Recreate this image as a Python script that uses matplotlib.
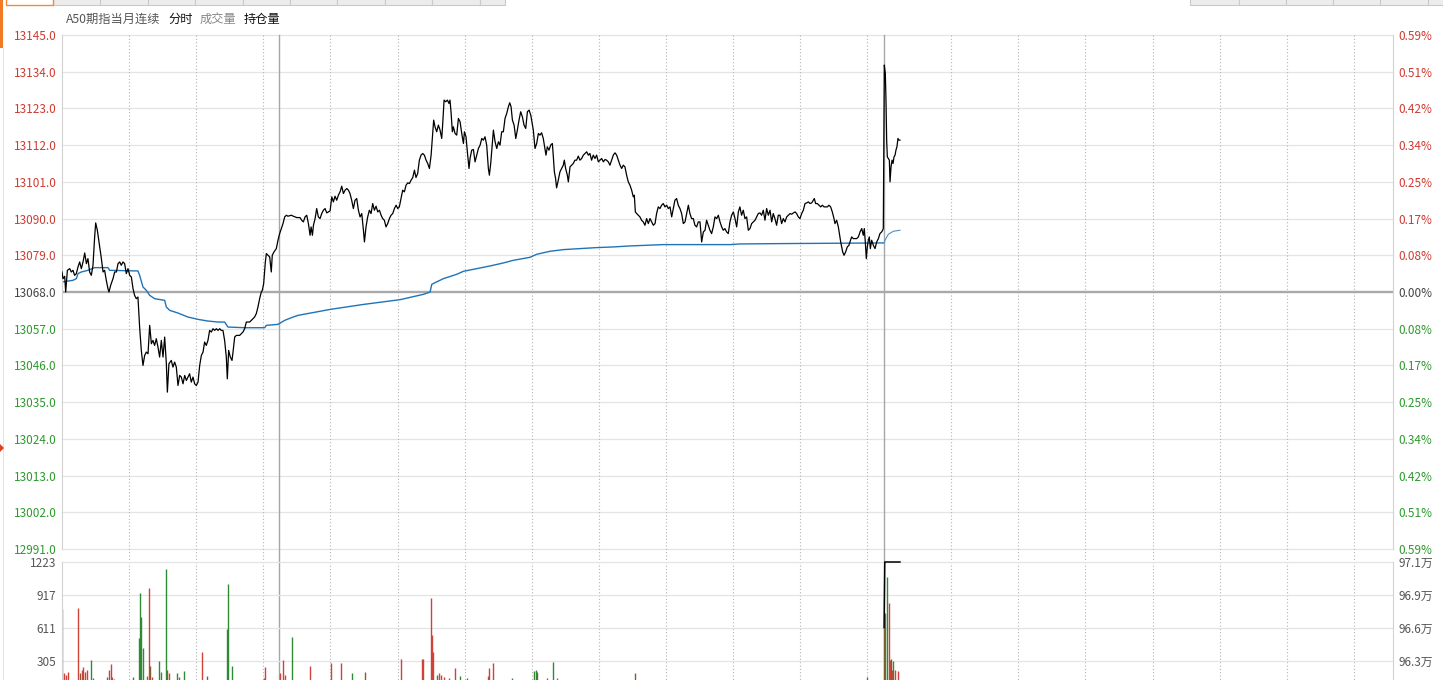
import matplotlib
matplotlib.use("Agg")
import matplotlib.pyplot as plt
from matplotlib.transforms import blended_transform_factory
from matplotlib.patches import Rectangle, Polygon

plt.rcParams['font.family'] = ['Noto Sans CJK SC', 'DejaVu Sans']

# ---------------- data ----------------
title = "A50期指当月连续"
tab_labels = ["分时", "成交量", "持仓量"]
base_price = 13068.0
price_ticks = [13145.0, 13134.0, 13123.0, 13112.0, 13101.0, 13090.0, 13079.0,
               13068.0, 13057.0, 13046.0, 13035.0, 13024.0, 13013.0, 13002.0, 12991.0]
vol_ticks = [1223, 917, 611, 305]
oi_tick_labels = ["97.1万", "96.9万", "96.6万", "96.3万"]
oi_tick_values = [97.13, 96.863, 96.597, 96.33]
session_total = 1190          # minutes shown (night 735 + day 455)
day_open = 735                # minute at which day session begins
marker_minute = 194           # solid separator in night session
hour_lines = [60, 120, 180, 240, 300, 360, 420, 480, 540, 600, 660, 720,
              795, 855, 915, 975, 1035, 1095, 1155]

price_min = [
    0, 0.9, 2.4, 3.3, 4.8, 6.9, 8.3, 9.8, 11.3, 12.8, 14.3, 15.8, 17.3, 18.8, 20.3, 21.8,
    23.2, 24.7, 26.2, 27.7, 29.2, 30.1, 31.6, 33.7, 35.2, 36.7, 38.1, 39.6, 41.1, 42.0,
    43.5, 45.6, 47.1, 48.6, 50.1, 51.6, 53.0, 54.5, 56.0, 57.5, 59.0, 60.5, 62.0, 63.5,
    64.9, 66.4, 67.9, 69.4, 70.9, 72.4, 73.9, 75.4, 76.9, 78.4, 79.9, 81.3, 82.8, 84.3,
    85.8, 87.3, 88.8, 90.3, 91.8, 93.3, 94.2, 95.6, 97.7, 99.2, 100.7, 102.2, 103.7,
    105.2, 106.7, 108.2, 109.7, 111.2, 112.6, 114.1, 115.6, 117.1, 118.6, 120.1, 121.6,
    123.1, 124.6, 126.1, 127.5, 129.0, 130.5, 132.0, 133.5, 135.0, 136.5, 138.0, 139.5,
    141.0, 142.4, 143.9, 145.4, 146.9, 147.8, 149.0, 150.5, 152.0, 152.9, 154.4, 155.9,
    157.3, 158.8, 160.3, 161.8, 163.3, 164.8, 166.3, 167.8, 169.3, 170.8, 172.2, 173.7,
    175.2, 176.7, 178.2, 179.1, 180.3, 181.8, 182.7, 184.2, 185.7, 187.1, 188.0, 189.5,
    191.6, 193.1, 194.6, 196.1, 197.6, 199.1, 200.6, 202.0, 205.0,
    206.9, 209.9, 212.8, 214.3, 215.8, 217.3, 218.8, 220.3, 221.8, 222.7, 223.9, 224.8,
    226.3, 227.7, 229.2, 230.7, 232.2, 233.7, 235.2, 236.7, 238.2, 239.7, 241.2, 242.6,
    244.1, 245.6, 247.1, 248.6, 250.1, 251.6, 253.1, 254.6, 256.1, 257.5, 259.0, 260.5,
    262.0, 263.5, 265.0, 266.5, 268.0, 269.5, 270.4, 271.8, 273.3, 274.8, 276.3, 277.8,
    279.3, 280.8, 282.3, 283.8, 285.3, 286.7, 288.2, 289.7, 291.2, 292.7, 294.2, 295.7,
    297.2, 298.7, 300.2, 301.6, 303.1, 304.6, 306.1, 307.6, 309.1, 310.6, 312.1, 313.6,
    315.1, 316.5, 318.0, 319.5, 321.0, 322.5, 324.0, 325.5, 327.0, 328.5, 330.0, 331.4,
    332.3, 333.5, 335.0, 336.5, 338.0, 339.5, 340.4, 341.6, 343.1, 344.6, 346.0, 346.9,
    347.8, 349.0, 349.9, 351.4, 352.9, 354.4, 355.9, 357.4, 358.9, 359.8, 361.2, 362.7,
    363.9, 364.8, 366.3, 367.8, 369.3, 370.8, 372.3, 373.8, 375.3, 376.7, 378.2, 379.7,
    381.2, 382.1, 383.3, 384.5, 385.7, 387.2, 388.7, 390.2, 391.6, 393.1, 394.6, 396.1,
    397.6, 399.1, 400.3, 401.5, 402.7, 404.2, 405.7, 407.1, 408.6, 410.1, 411.6, 413.1,
    414.6, 416.1, 417.6, 419.1,
    421.4, 422.9, 424.4, 425.9, 427.3, 428.8, 430.3, 431.8, 432.7, 433.9, 435.4, 436.9,
    438.4, 439.3, 440.2, 441.3, 442.2, 443.7, 445.2, 446.7, 448.2, 449.1, 450.3, 451.8,
    452.7, 454.2, 455.7, 457.1, 458.6, 460.1, 461.6, 463.1, 464.6, 466.1, 467.6, 469.1,
    470.6, 472.0, 473.5, 475.0, 476.5, 478.0, 479.5, 481.0, 482.5, 484.0, 485.5, 486.9,
    488.4, 489.9, 491.4, 492.9, 494.4, 495.9, 497.4, 498.9, 500.4, 501.8, 503.3, 504.8,
    506.3, 507.8, 509.3, 510.8, 511.7, 512.6, 513.8, 515.3, 516.7, 518.2, 519.7, 521.2,
    522.7, 524.2, 525.7, 527.2, 528.7, 530.2, 531.6, 533.1, 534.6, 536.1, 537.6, 539.1,
    540.6, 542.1, 543.6, 545.1, 546.5, 548.0, 549.5, 551.0, 552.5, 554.0, 555.5, 557.0,
    558.5, 560.0, 561.4, 562.9, 564.4, 565.9, 567.4, 568.9, 570.4, 571.9, 573.4, 574.9,
    576.3, 577.8, 579.3, 580.8, 582.3, 583.8, 585.3, 586.8, 588.3, 589.8, 591.2, 592.7,
    594.2, 595.7, 597.2, 598.7, 600.2, 601.7, 603.2, 604.7, 606.1, 607.6, 609.1, 610.6,
    612.1, 613.6, 615.1, 616.6, 618.1, 619.6, 621.0, 622.5, 624.0, 625.5, 627.0, 628.5,
    630.0, 631.5, 633.0, 634.5, 635.9, 637.4, 638.9, 640.4,
    641.9, 643.4, 644.9, 646.4, 647.9, 649.4, 650.9, 652.4, 653.9, 655.4, 656.8, 658.3,
    659.8, 661.3, 662.8, 664.3, 665.8, 667.3, 668.8, 670.3, 671.7, 672.6, 673.8, 675.3,
    676.8, 678.3, 679.8, 681.3, 682.8, 684.3, 685.7, 687.2, 688.7, 690.2, 691.1, 692.6,
    694.1, 695.0, 696.2, 697.1, 698.0, 699.2, 700.6, 702.1, 703.6, 704.5, 706.0, 707.5,
    709.0, 710.5, 712.0, 713.5, 715.0, 716.4, 717.3, 718.2, 719.1, 720.0, 720.9, 721.8,
    722.7, 723.9, 725.4, 726.9, 728.4, 729.9, 731.3, 732.8, 733.7, 734.3,
    735.2, 736.1, 736.7, 737.3, 737.9, 738.8, 739.7, 740.3, 741.2, 742.1, 743.0, 743.9,
    744.8, 745.6, 746.5, 747.4, 748.3, 749.2]

price_val = [
    13074.0, 13072.0, 13072.7, 13068.0, 13074.5, 13075.0, 13074.0, 13074.5, 13073.0, 13073.5,
    13075.5, 13077.0, 13075.0, 13077.0, 13079.7, 13076.5, 13078.0, 13074.0, 13073.0, 13076.0,
    13084.5, 13088.7, 13086.5, 13081.5, 13078.0, 13074.0, 13074.5, 13071.5, 13069.0, 13068.0,
    13070.0, 13072.0, 13074.0, 13074.0, 13076.5, 13077.0, 13076.0, 13077.0, 13076.5, 13073.5,
    13075.0, 13073.0, 13072.5, 13069.0, 13067.0, 13066.0, 13066.5, 13057.5, 13050.5, 13046.0,
    13049.0, 13050.0, 13049.5, 13058.0, 13052.5, 13053.5, 13052.0, 13054.0, 13051.5, 13048.5,
    13053.5, 13048.5, 13054.5, 13046.5, 13038.0, 13046.5, 13047.5, 13045.5, 13047.0, 13045.5,
    13040.0, 13043.0, 13042.5, 13040.5, 13043.0, 13041.5, 13042.5, 13043.5, 13041.0, 13042.5,
    13040.5, 13040.0, 13041.0, 13046.0, 13049.0, 13050.0, 13053.0, 13052.0, 13053.5, 13056.5,
    13056.0, 13057.0, 13056.5, 13057.0, 13056.5, 13057.0, 13056.5, 13056.5, 13053.5, 13048.5,
    13042.0, 13050.5, 13048.5, 13047.5, 13050.0, 13054.5, 13055.0, 13055.0, 13055.0, 13055.5,
    13056.0, 13057.0, 13059.0, 13059.0, 13059.0, 13059.5, 13060.0, 13060.5, 13061.5, 13063.5,
    13066.0, 13068.0, 13068.5, 13070.5, 13077.0, 13079.5, 13079.0, 13078.5, 13074.0, 13079.0,
    13080.0, 13081.0, 13083.5, 13085.5, 13087.0, 13088.5, 13090.5, 13091.0, 13090.7, 13091.0,
    13090.7, 13090.3, 13090.3, 13089.5, 13089.0, 13090.5, 13091.0, 13088.5, 13085.0, 13087.5,
    13085.0, 13088.0, 13090.0, 13093.0, 13090.5, 13090.0, 13091.5, 13092.5, 13093.0, 13091.7,
    13092.0, 13092.3, 13096.5, 13095.0, 13096.7, 13095.5, 13097.0, 13098.0, 13099.7, 13097.5,
    13098.5, 13099.0, 13098.5, 13097.5, 13095.5, 13093.0, 13095.5, 13096.0, 13092.5, 13090.5,
    13091.5, 13086.5, 13083.0, 13087.5, 13090.5, 13092.5, 13091.5, 13094.5, 13092.5, 13093.7,
    13092.0, 13092.5, 13091.0, 13090.0, 13089.5, 13087.5, 13088.5, 13090.0, 13091.0, 13091.5,
    13093.0, 13094.0, 13093.0, 13093.5, 13096.0, 13098.5, 13098.0, 13100.0, 13100.7, 13100.5,
    13101.5, 13102.3, 13104.5, 13102.3, 13103.5, 13107.5, 13109.0, 13109.5, 13109.0, 13107.5,
    13106.5, 13105.0, 13109.0, 13115.5, 13119.5, 13117.5, 13116.0, 13118.0, 13116.5, 13114.0,
    13118.5, 13125.5, 13125.0, 13125.5, 13124.5, 13125.5, 13122.0, 13116.0, 13117.5, 13115.5,
    13115.0, 13120.0, 13119.0, 13115.5, 13112.5, 13116.0, 13114.5, 13109.0, 13105.0, 13108.0,
    13110.5, 13110.7, 13107.0, 13109.0, 13111.0, 13112.0, 13114.0, 13113.5, 13114.5, 13112.0,
    13105.0, 13103.0, 13106.5, 13111.5, 13116.5, 13113.0, 13111.0, 13113.0, 13112.0, 13116.0,
    13116.0, 13120.0, 13121.5, 13123.5, 13124.7, 13123.5, 13119.5, 13118.0, 13114.0, 13116.5,
    13119.5, 13122.0, 13120.5, 13118.0, 13117.0, 13122.0, 13122.5, 13121.0,
    13116.5, 13111.0, 13112.5, 13115.5, 13115.0, 13115.7, 13114.0, 13111.0, 13109.0, 13111.5,
    13110.5, 13112.0, 13112.5, 13108.5, 13104.0, 13102.0, 13099.2, 13101.5, 13104.0, 13105.0,
    13106.0, 13107.5, 13105.0, 13103.0, 13101.0, 13105.5, 13106.0, 13106.5, 13107.5, 13107.5,
    13108.7, 13107.5, 13108.0, 13109.0, 13109.5, 13110.0, 13109.0, 13109.5, 13107.5, 13109.0,
    13108.0, 13109.0, 13107.0, 13107.5, 13108.0, 13107.0, 13107.7, 13107.5, 13107.0, 13106.0,
    13107.5, 13109.0, 13109.7, 13109.0, 13107.5, 13106.0, 13105.0, 13106.0, 13105.5, 13103.0,
    13101.0, 13100.0, 13098.5, 13096.5, 13097.0, 13092.0, 13091.5, 13091.0, 13090.5, 13089.5,
    13089.0, 13088.0, 13090.0, 13088.5, 13090.0, 13089.0, 13088.0, 13088.5, 13091.5, 13093.5,
    13093.0, 13094.0, 13094.5, 13093.5, 13094.0, 13093.0, 13093.5, 13090.5, 13093.0, 13095.5,
    13096.0, 13094.0, 13093.0, 13091.5, 13088.5, 13089.0, 13091.5, 13094.0, 13091.5, 13090.0,
    13090.0, 13088.0, 13087.5, 13089.0, 13089.0, 13083.0, 13086.0, 13086.5, 13089.5, 13088.0,
    13086.5, 13085.5, 13087.5, 13090.5, 13090.0, 13091.0, 13089.0, 13087.5, 13086.5, 13087.0,
    13086.0, 13085.5, 13089.0, 13091.0, 13092.0, 13090.0, 13087.5, 13092.0, 13093.5, 13091.0,
    13092.5, 13090.0, 13090.5, 13086.5, 13087.0, 13088.5, 13089.0, 13089.5, 13090.5, 13091.5,
    13091.7, 13091.0, 13092.5, 13089.5, 13093.0, 13091.0, 13092.5, 13089.0, 13091.5, 13090.0,
    13088.0, 13091.0,
    13091.0, 13088.5, 13090.0, 13089.0, 13090.5, 13091.0, 13091.5, 13091.3, 13091.7, 13092.0,
    13091.5, 13090.5, 13090.0, 13091.5, 13092.5, 13094.5, 13094.7, 13095.0, 13094.5, 13094.7,
    13095.5, 13096.0, 13094.5, 13094.5, 13094.0, 13093.5, 13094.0, 13093.5, 13093.5, 13093.5,
    13094.0, 13093.5, 13092.0, 13090.0, 13088.5, 13089.5, 13087.5, 13085.5, 13083.0, 13081.5,
    13080.0, 13079.0, 13080.0, 13081.5, 13082.0, 13083.0, 13084.5, 13084.0, 13084.0, 13084.0,
    13084.5, 13086.0, 13087.0, 13085.0, 13087.0, 13083.0, 13078.0, 13081.5, 13083.5, 13084.5,
    13081.0, 13083.5, 13082.0, 13081.0, 13083.0, 13084.0, 13085.5, 13086.0, 13086.5, 13087.0,
    13136.0, 13133.5, 13125.5, 13113.5, 13108.5, 13108.0, 13107.5, 13101.0, 13105.5, 13107.5,
    13106.5, 13108.5, 13109.0, 13110.5, 13111.5, 13114.0, 13113.5, 13113.5]

avg_min = [0, 9.8, 12.8, 14.3, 17.3, 23.2, 29.2, 41.1, 42.6, 67.9, 69.4, 72.4, 75.4, 78.4,
           82.8, 91.8, 93.3, 96.3, 103.7, 112.6, 121.6, 130.5, 139.5, 145.4, 148.4, 163.3,
           181.2, 182.7, 193.1, 199.1, 205.0, 211.0, 240.0, 270.0, 302.2, 323.1, 329.1,
           330.6, 333.5, 341.0, 352.9, 358.9, 370.8, 382.7, 394.6, 403.6, 418.5, 424.4,
           436.3, 448.2, 463.1, 478.0, 492.9, 507.8, 522.7, 537.6, 597.2, 606.1, 641.9, 734.3]
avg_val = [13071.0, 13071.5, 13072.0, 13073.5, 13074.0, 13074.5, 13075.3, 13075.3, 13074.5,
           13074.3, 13073.0, 13069.5, 13068.5, 13067.0, 13066.0, 13065.5, 13063.5, 13062.5,
           13061.7, 13060.5, 13059.8, 13059.3, 13059.0, 13059.0, 13057.5, 13057.3, 13057.3,
           13058.0, 13058.3, 13059.5, 13060.3, 13061.0, 13062.8, 13064.3, 13065.7, 13067.3,
           13068.0, 13070.3, 13070.8, 13072.0, 13073.3, 13074.2, 13075.0, 13075.8, 13076.7,
           13077.5, 13078.4, 13079.3, 13080.2, 13080.7, 13081.0, 13081.3, 13081.5, 13081.8,
           13082.0, 13082.2, 13082.2, 13082.4, 13082.5, 13082.7]
day_avg_min = [735.2, 735.8, 738.8, 743.3, 749.2]
day_avg_val = [13082.7, 13083.5, 13085.3, 13086.2, 13086.5]

vol_min = [0, 2.1, 3.3, 5.1, 14.6, 16.1, 17.6, 18.5, 20.6, 22.1, 25.7, 28.0, 40.0, 42.3,
           43.5, 45.0, 46.8, 63.7, 69.1, 70.0, 70.9, 72.7, 75.7, 77.8, 78.7, 80.2, 87.0,
           88.5, 93.2, 94.1, 95.4, 103.1, 104.3, 109.3, 125.4, 129.4, 147.2, 148.1, 152.2,
           180.6, 181.8, 194.9, 197.8, 199.4, 205.9, 221.7, 240.5, 249.4, 259.5, 270.9,
           303.1, 321.6, 322.5, 329.9, 331.0, 331.9, 335.5, 337.3, 338.8, 341.8, 346.3,
           351.3, 355.8, 361.8, 381.1, 382.0, 385.6, 402.0, 422.2, 423.5, 424.4, 433.3,
           439.3, 442.8, 512.3, 719.4, 735.3, 735.9, 737.9, 739.2, 740.3, 741.2, 742.4,
           743.3, 744.5, 747.2]
vol_val = [787, 191, 175, 206, 794, 194, 222, 252, 206, 222, 314, 147, 157, 222,
           277, 160, 140, 160, 515, 933, 716, 423, 166, 985, 259, 160, 308,
           206, 1158, 222, 194, 197, 160, 215, 391, 166, 599, 1019, 259,
           146, 250, 197, 314, 175, 530, 261, 290, 290, 197, 200,
           326, 326, 326, 892, 546, 391, 175, 194, 180, 160, 145,
           243, 166, 145, 166, 243, 290, 146, 215, 222, 200, 150,
           299, 150, 197, 160, 623, 747, 1087, 840, 315, 320, 222,
           305, 222, 213]
vol_dir = ['r', 'r', 'r', 'r', 'r', 'b', 'r', 'r', 'r', 'r', 'g', 'g', 'g', 'r',
           'r', 'r', 'r', 'g', 'g', 'g', 'g', 'g', 'r', 'r', 'b', 'r', 'g',
           'g', 'g', 'b', 'r', 'g', 'r', 'g', 'r', 'g', 'g', 'g', 'g',
           'r', 'r', 'r', 'r', 'r', 'g', 'r', 'r', 'r', 'g', 'b',
           'r', 'r', 'r', 'r', 'r', 'r', 'g', 'r', 'r', 'r', 'r',
           'r', 'g', 'g', 'r', 'r', 'r', 'g', 'g', 'g', 'b', 'r',
           'g', 'r', 'b', 'g', 'b', 'g', 'g', 'r', 'r', 'b', 'r',
           'g', 'r', 'r']

oi_min = [735.0, 735.6, 749.2]
oi_val = [96.60, 97.13, 97.13]

# ---------------- styling ----------------
RED = '#d03a30'
GREEN = '#2c9a2c'
DARK = '#444444'
GRID = '#e4e4e4'
VCOL = {'r': '#d0413a', 'g': '#2f8a35', 'b': '#8a5a2b'}

W, H = 1443, 680
fig = plt.figure(figsize=(W / 100, H / 100), dpi=100)
fig.patch.set_facecolor('white')


def fx(px):
    return px / W


def fy(py):
    return 1 - py / H


L, R = 62, 1393
ax = fig.add_axes([fx(L), fy(549), fx(R - L), (549 - 35) / H])
axv = fig.add_axes([fx(L), fy(694), fx(R - L), (694 - 562) / H])

for a in (ax, axv):
    a.set_xlim(0, session_total)
    a.set_facecolor('none')
    a.tick_params(axis='x', bottom=False, labelbottom=False)
    a.tick_params(axis='y', length=0, pad=4, labelsize=8.5)
    for s in ('top', 'bottom'):
        a.spines[s].set_visible(False)
    for s in ('left', 'right'):
        a.spines[s].set_color('#d2d2d2')
        a.spines[s].set_linewidth(0.8)

# price panel
ax.set_ylim(price_ticks[-1], price_ticks[0])
ax.set_yticks(price_ticks)
ax.set_yticklabels([f"{t:.1f}" for t in price_ticks])
for lbl, t in zip(ax.get_yticklabels(), price_ticks):
    lbl.set_color(RED if t > base_price else (GREEN if t < base_price else DARK))
for t in price_ticks:
    if t == base_price:
        ax.axhline(t, color='#a9a9a9', lw=1.7, zorder=1)
    else:
        ax.axhline(t, color=GRID, lw=0.9, zorder=0, clip_on=False)

ax2 = ax.twinx()
ax2.set_ylim(ax.get_ylim())
ax2.set_yticks(price_ticks)
ax2.set_yticklabels([f"{abs(t - base_price) / base_price * 100:.2f}%" for t in price_ticks])
for lbl, t in zip(ax2.get_yticklabels(), price_ticks):
    lbl.set_color(RED if t > base_price else (GREEN if t < base_price else DARK))
ax2.tick_params(axis='y', length=0, pad=4, labelsize=8.5)
for s in ('top', 'bottom', 'left', 'right'):
    ax2.spines[s].set_visible(False)

# vertical separators across both panels
trans = blended_transform_factory(ax.transData, fig.transFigure)
for m in hour_lines:
    ax.plot([m, m], [fy(35), 0], transform=trans, color='#b4b4b4', lw=0.8,
            ls=(0, (1, 2)), clip_on=False, zorder=0)
for m in (marker_minute, day_open):
    ax.plot([m, m], [fy(35), 0], transform=trans, color='#a6a6a6', lw=1.0,
            clip_on=False, zorder=0)

ax.plot(price_min, price_val, color='black', lw=0.9, zorder=3)
ax.plot(avg_min, avg_val, color='#1f74b8', lw=1.0, zorder=2)
ax.plot(day_avg_min, day_avg_val, color='#4d8fc6', lw=0.8, zorder=2)

# volume panel
axv.set_ylim(0, vol_ticks[0])
axv.set_yticks(vol_ticks)
axv.set_yticklabels([str(v) for v in vol_ticks], color='#555555')
for v in vol_ticks:
    axv.axhline(v, color=GRID, lw=0.9, zorder=0, clip_on=False)
axv.vlines(vol_min, 0, vol_val, colors=[VCOL[d] for d in vol_dir], lw=1.0, zorder=2)

axo = axv.twinx()
axo.set_ylim(96.063, 97.13)
axo.set_yticks(oi_tick_values)
axo.set_yticklabels(oi_tick_labels, color='#555555')
axo.tick_params(axis='y', length=0, pad=4, labelsize=8.5)
for s in ('top', 'bottom', 'left', 'right'):
    axo.spines[s].set_visible(False)
axo.plot(oi_min, oi_val, color='black', lw=1.1, clip_on=False, zorder=4)

# header texts
fig.text(fx(66), fy(19), title, fontsize=8.8, color='#555555', va='center', ha='left')
fig.text(fx(168), fy(19), tab_labels[0], fontsize=8.8, color='#111111', va='center', ha='left')
fig.text(fx(200), fy(19), tab_labels[1], fontsize=8.8, color='#888888', va='center', ha='left')
fig.text(fx(244), fy(19), tab_labels[2], fontsize=8.8, color='#111111', va='center', ha='left')

# UI strip at the very top
def rect(x0, y0, x1, y1, fc, ec, lw=0.8):
    fig.add_artist(Rectangle((fx(x0), fy(y1)), fx(x1 - x0), (y1 - y0) / H,
                             transform=fig.transFigure, facecolor=fc, edgecolor=ec, lw=lw))

for x0, x1 in [(53, 100), (100, 148), (148, 195), (195, 243), (243, 290), (290, 337),
               (337, 385), (385, 432), (432, 480), (480, 505)]:
    rect(x0, -2, x1, 5, '#ececec', '#c9c9c9')
for x0, x1 in [(1190, 1239), (1239, 1286), (1286, 1333), (1333, 1380), (1380, 1428), (1428, 1445)]:
    rect(x0, -2, x1, 5, '#ececec', '#c9c9c9')
rect(6, -2, 53, 5, 'white', '#f08a3c', 1.0)
rect(0, 0, 3.5, 48, '#f07a26', 'none', 0)
rect(3.5, 48, 4.5, 680, '#e2e2e2', 'none', 0)
fig.add_artist(Polygon([[fx(0), fy(444)], [fx(4), fy(448)], [fx(0), fy(452)]],
                       closed=True, transform=fig.transFigure, facecolor='#e0401e', edgecolor='none'))

fig.savefig('out.png', dpi=100, facecolor='white')
